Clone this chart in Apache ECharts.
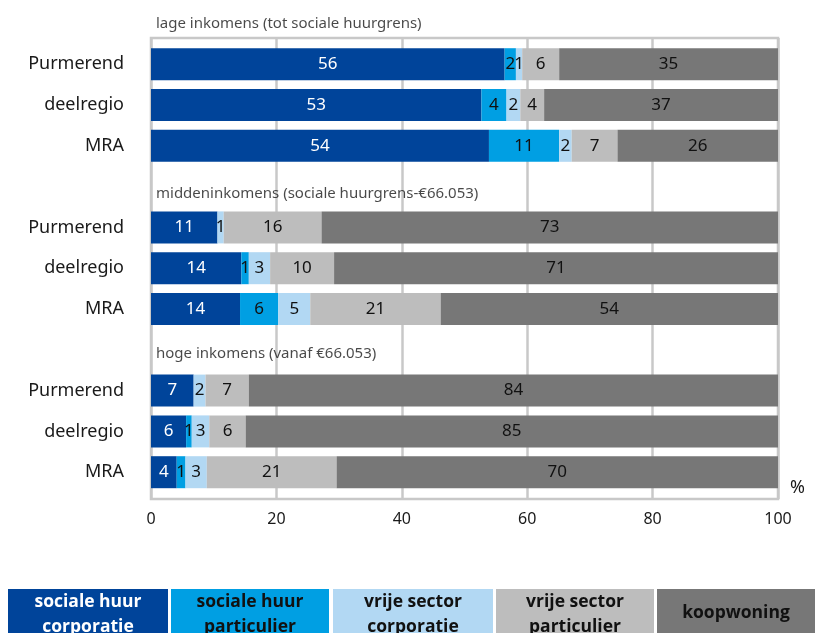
<!DOCTYPE html>
<html>
<head>
<meta charset="utf-8">
<script src="https://cdn.jsdelivr.net/npm/echarts@6/dist/echarts.min.js"></script>
<style>
html,body{margin:0;padding:0;background:#fff;}
#chart{width:815px;height:633px;}
</style>
</head>
<body>
<div id="chart"></div>
<script>
// ---- data ----
var rowLabels = ['', 'Purmerend', 'deelregio', 'MRA', '', 'Purmerend', 'deelregio', 'MRA', '', 'Purmerend', 'deelregio', 'MRA'];
var headerRows = [0, 4, 8];
var groupTitles = ['lage inkomens (tot sociale huurgrens)', 'middeninkomens (sociale huurgrens-€66.053)', 'hoge inkomens (vanaf €66.053)'];
var seriesNames = ['sociale huur corporatie', 'sociale huur particulier', 'vrije sector corporatie', 'vrije sector particulier', 'koopwoning'];
var legendLines = [['sociale huur', 'corporatie'], ['sociale huur', 'particulier'], ['vrije sector', 'corporatie'], ['vrije sector', 'particulier'], ['koopwoning']];
var xTicks = [0, 20, 40, 60, 80, 100];
// values per series, rows: low P/d/M, middle P/d/M, high P/d/M
var socialeHuurCorporatie = [56.4, 52.7, 53.9, 10.6, 14.4, 14.2, 6.8, 5.6, 4.1];
var socialeHuurParticulier = [1.8, 4.0, 11.2, 0, 1.2, 6.1, 0, 0.9, 1.4];
var vrijeSectorCorporatie = [1.0, 2.2, 2.0, 1.0, 3.4, 5.1, 1.9, 2.8, 3.4];
var vrijeSectorParticulier = [5.9, 3.8, 7.3, 15.6, 10.2, 20.8, 6.9, 5.8, 20.7];
var koopwoning = [34.9, 37.3, 25.6, 72.8, 70.8, 53.8, 84.4, 84.9, 70.4];

// ---- styles ----
var colors = ['#00449a', '#009fe3', '#b2d8f3', '#bdbdbd', '#777777'];
var labelColors = ['#ffffff', '#111111', '#111111', '#111111', '#111111'];
var headerOffsets = [[0, 0], [0, 7], [0, 4]];

function toRows(vals) {
  var out = [], k = 0;
  for (var i = 0; i < rowLabels.length; i++) {
    if (headerRows.indexOf(i) >= 0) out.push(null);
    else out.push(vals[k++]);
  }
  return out;
}

var allVals = [socialeHuurCorporatie, socialeHuurParticulier, vrijeSectorCorporatie, vrijeSectorParticulier, koopwoning];
var series = allVals.map(function (vals, si) {
  return {
    name: seriesNames[si],
    type: 'bar',
    stack: 'total',
    xAxisIndex: 1,
    yAxisIndex: 1,
    barWidth: 32,
    itemStyle: { color: colors[si] },
    label: {
      show: true,
      position: 'inside',
      color: labelColors[si],
      fontFamily: 'Noto Sans',
      fontSize: 17,
      formatter: function (p) {
        if (p.value == null || p.value < 0.5) return '';
        return String(Math.round(p.value));
      }
    },
    data: toRows(vals)
  };
});

series.push({
  type: 'scatter',
  xAxisIndex: 1,
  yAxisIndex: 1,
  symbolSize: 0,
  silent: true,
  z: 10,
  label: {
    show: true,
    position: 'right',
    distance: 5,
    color: '#1a1a1a',
    fontFamily: 'Noto Sans',
    fontSize: 15,
    formatter: function (p) { return groupTitles[p.dataIndex]; }
  },
  data: headerRows.map(function (r, i) {
    return { value: [0, r], label: { offset: headerOffsets[i] } };
  })
});

var graphics = [];
var boxX = [8, 171, 333, 496, 657];
var boxW = [160, 158, 160, 158, 158];
legendLines.forEach(function (lines, i) {
  graphics.push({
    type: 'rect',
    x: boxX[i], y: 589,
    shape: { x: 0, y: 0, width: boxW[i], height: 60 },
    style: { fill: colors[i] }
  });
  graphics.push({
    type: 'text',
    x: boxX[i] + boxW[i] / 2,
    y: lines.length > 1 ? 590 : 601,
    style: {
      text: lines.join('\n'),
      align: 'center',
      verticalAlign: 'top',
      fill: labelColors[i],
      font: 'bold 17.5px "Open Sans"',
      lineHeight: 25
    }
  });
});

var chart = echarts.init(document.getElementById('chart'), null, { renderer: 'canvas' });
chart.setOption({
  animation: false,
  backgroundColor: '#ffffff',
  grid: [
    { left: 151, right: 37, top: 38, bottom: 134, show: true, borderColor: '#c8c8c8', borderWidth: 2.5, backgroundColor: 'transparent' },
    { left: 151, right: 37, top: 3, height: 489.6 }
  ],
  xAxis: [
    {
      gridIndex: 0, type: 'value', min: xTicks[0], max: xTicks[xTicks.length - 1], interval: 20,
      axisLine: { show: false }, axisTick: { show: false },
      splitLine: { show: true, lineStyle: { color: '#c8c8c8', width: 2.5 } },
      axisLabel: { color: '#1a1a1a', fontFamily: 'Noto Sans', fontSize: 16, margin: 12 },
      name: '%', nameLocation: 'end', nameGap: 12,
      nameTextStyle: { color: '#1a1a1a', fontFamily: 'Noto Sans', fontSize: 18, verticalAlign: 'bottom', padding: [0, 0, 2, 0] }
    },
    {
      gridIndex: 1, type: 'value', min: 0, max: 100, show: false
    }
  ],
  yAxis: [
    { gridIndex: 0, type: 'category', data: ['a'], show: false },
    {
      gridIndex: 1, type: 'category', inverse: true, data: rowLabels,
      axisLine: { show: false }, axisTick: { show: false }, splitLine: { show: false },
      axisLabel: { color: '#1a1a1a', fontFamily: 'Noto Sans', fontSize: 18, margin: 27 }
    }
  ],
  series: series,
  graphic: graphics
});
</script>
</body>
</html>
